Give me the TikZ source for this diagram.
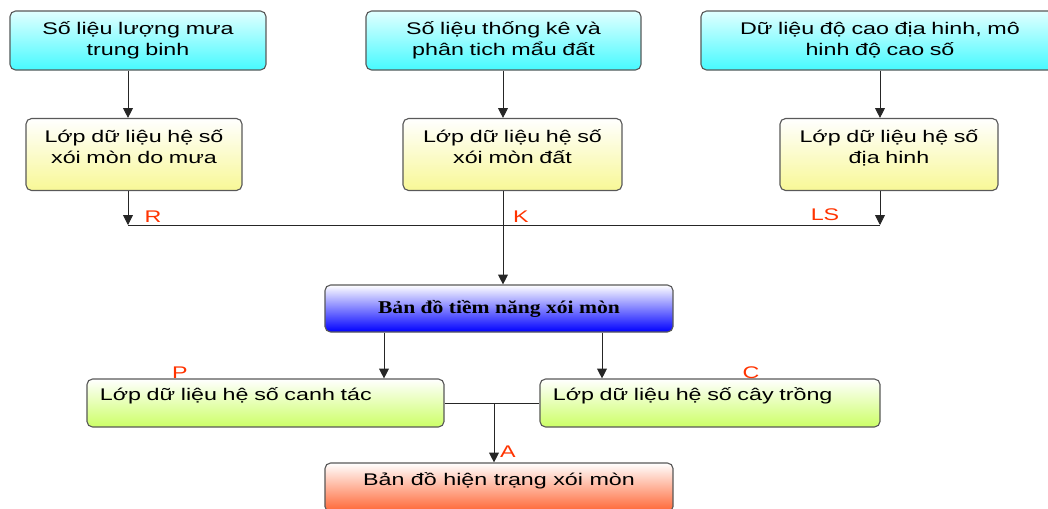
\documentclass[tikz,border=0pt]{standalone}
\usepackage{fontspec}
\setmainfont[FakeStretch=1.38]{Liberation Sans}
\newfontfamily\titlefont[FakeStretch=1.2]{Liberation Serif}
\usetikzlibrary{arrows.meta}
\definecolor{cyantop}{RGB}{225,255,255}
\definecolor{cyanbot}{RGB}{70,250,255}
\definecolor{yellowbot}{RGB}{248,248,150}
\definecolor{limebot}{RGB}{204,255,102}
\definecolor{orangebot}{RGB}{255,100,50}
\definecolor{coefred}{RGB}{255,51,0}
\begin{document}
\begin{tikzpicture}[x=0.025cm,y=-0.025cm,
  every node/.style={font=\fontsize{12}{15}\selectfont},
  link/.style={draw=black!85,line width=0.6pt},
  flow/.style={link,-{Triangle[length=7pt,width=7pt]}},
  box/.style={draw=black!65,line width=0.8pt,rounded corners=4pt,inner xsep=0.2cm,inner ysep=0pt},
  source/.style={box,top color=cyantop,bottom color=cyanbot,minimum height=1.475cm,align=center},
  layer/.style={box,top color=white,bottom color=yellowbot,minimum height=1.8cm,align=center,text depth=26pt},
  factor/.style={box,top color=white,bottom color=limebot,minimum height=1.2cm,inner xsep=0.325cm,align=left,text height=8pt,text depth=11pt},
  coef/.style={text=coefred}]
\useasboundingbox (0,0) rectangle (1048,508);
\clip (0,0) rectangle (1048,508);
% input data
\node[source,text width=6.0cm] (rain) at (138,40.5) {Số liệu lượng mưa\\trung binh};
\node[source,text width=6.475cm] (soil) at (503.5,40.5) {Số liệu thống kê và\\phân tich mẩu đất};
\node[source,text width=8.55cm] (relief) at (880,40.5) {Dữ liệu độ cao địa hinh, mô\\hinh độ cao số};
% factor layers
\node[layer,text width=5.0cm] (layerR) at (134,154.5) {Lớp dữ liệu hệ số\\xói mòn do mưa};
\node[layer,text width=5.075cm] (layerK) at (512.5,154.5) {Lớp dữ liệu hệ số\\xói mòn đất};
\node[layer,text width=5.05cm] (layerLS) at (889,154.5) {Lớp dữ liệu hệ số\\địa hinh};
\coordinate (jR) at (128,225);
\coordinate (jK) at (503,225);
\coordinate (jLS) at (880,225);
\draw[flow] (rain.south -| jR) -- (layerR.north -| jR);
\draw[flow] (soil.south -| jK) -- (layerK.north -| jK);
\draw[flow] (relief.south -| jLS) -- (layerLS.north -| jLS);
\draw[flow] (layerR.south -| jR) -- (jR);
\draw[flow] (layerLS.south -| jLS) -- (jLS);
\draw[link] (jR) -- (jLS);
\node[coef] (labR) at (153,217) {R};
\node[coef] (labK) at (521,217) {K};
\node[coef] (labLS) at (825,215) {LS};
% potential erosion
\node[box,top color=white,bottom color=blue,minimum width=8.7cm,minimum height=1.175cm,
  font=\titlefont\bfseries\fontsize{12.8}{15}\selectfont] (potential) at (499,308.5) {Bản đồ tiềm năng xói mòn};
\draw[flow] (layerK.south -| jK) -- (potential.north -| jK);
% P and C
\coordinate (colP) at (384,0);
\coordinate (colC) at (602,0);
\node[factor,text width=8.275cm] (layerP) at (265.5,403) {Lớp dữ liệu hệ số canh tác};
\node[factor,text width=7.85cm] (layerC) at (710,403) {Lớp dữ liệu hệ số cây trồng};
\draw[flow] (potential.south -| colP) -- (layerP.north -| colP);
\draw[flow] (potential.south -| colC) -- (layerC.north -| colC);
\node[coef] (labP) at (180,373) {P};
\node[coef] (labC) at (751,373) {C};
% actual erosion
\node[box,top color=white,bottom color=orangebot,minimum width=8.7cm,minimum height=1.225cm,
  text height=8pt,text depth=11pt] (current) at (499,487.5) {Bản đồ hiện trạng xói mòn};
\coordinate (jA) at (494,403);
\draw[link] (layerP.east) -- (layerC.west);
\draw[flow] (jA) -- (current.north -| jA);
\node[coef] (labA) at (508,452) {A};
\end{tikzpicture}
\end{document}
